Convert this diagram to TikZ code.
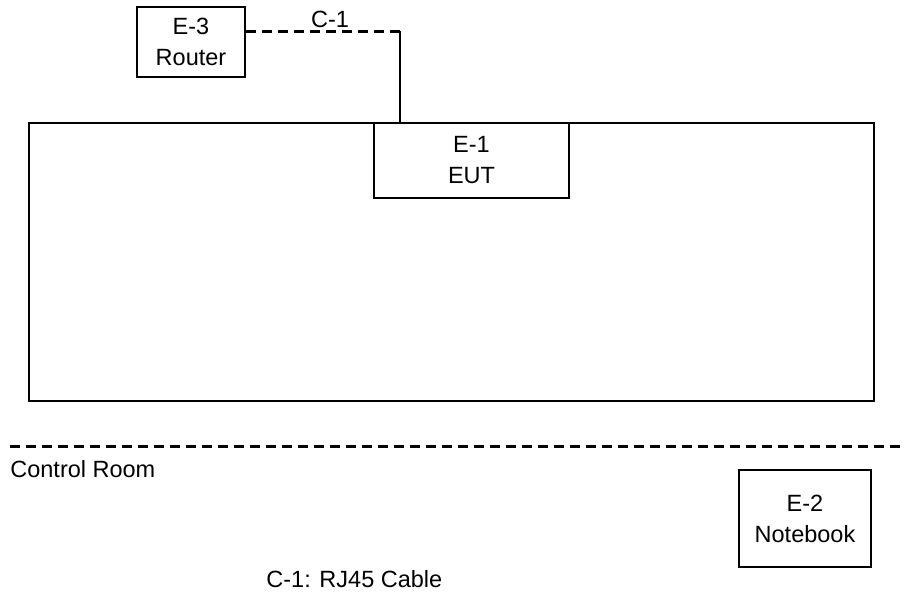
\documentclass[tikz,border=0pt]{standalone}
\usepackage{fontspec}
\setmainfont{Liberation Sans}
\usetikzlibrary{positioning, calc}

\begin{document}
\begin{tikzpicture}[
  x=0.5pt, y=-0.5pt,
  every node/.style={font=\fontsize{11.75}{15.5}\selectfont},
  eq/.style={rectangle, draw=black, line width=1pt, align=center,
    inner sep=0pt},
  room/.style={rectangle, draw=black, line width=1pt, inner sep=0pt},
  wire/.style={line width=1pt, black},
  cable/.style={line width=1.5pt, black, dash pattern=on 5pt off 3pt},
  lbl/.style={inner sep=0pt},
]
  \useasboundingbox (0,0) rectangle (906,595);

  % test room
  \node[room, minimum width=422.5pt, minimum height=139pt] (tbl) at (451.5,262) {};
  \node[eq, minimum width=97.5pt, minimum height=37.5pt] (eut) at (471.5,160.5) {E-1\\EUT};
  \node[eq, minimum width=54pt, minimum height=35pt] (router) at (191,42) {E-3\\Router};

  % cable C-1
  \coordinate (bend) at (400,31);
  \draw[cable] (router.east |- bend) -- (bend);
  \draw[wire] (bend) -- (tbl.north -| bend);
  \node[lbl, anchor=base] (c1) at (330,27) {C-1};

  % control room
  \coordinate (sepL) at (10,446);
  \coordinate (sepR) at (906,446);
  \draw[cable] (sepL) -- (sepR);
  \node[lbl, anchor=base west] (ctrl) at (10,477) {Control Room};
  \node[eq, minimum width=66pt, minimum height=48.5pt] (nb) at (805,518.5) {E-2\\Notebook};

  \node[lbl, anchor=base west] (legend) at (266,587) {C-1: RJ45 Cable};
\end{tikzpicture}
\end{document}
